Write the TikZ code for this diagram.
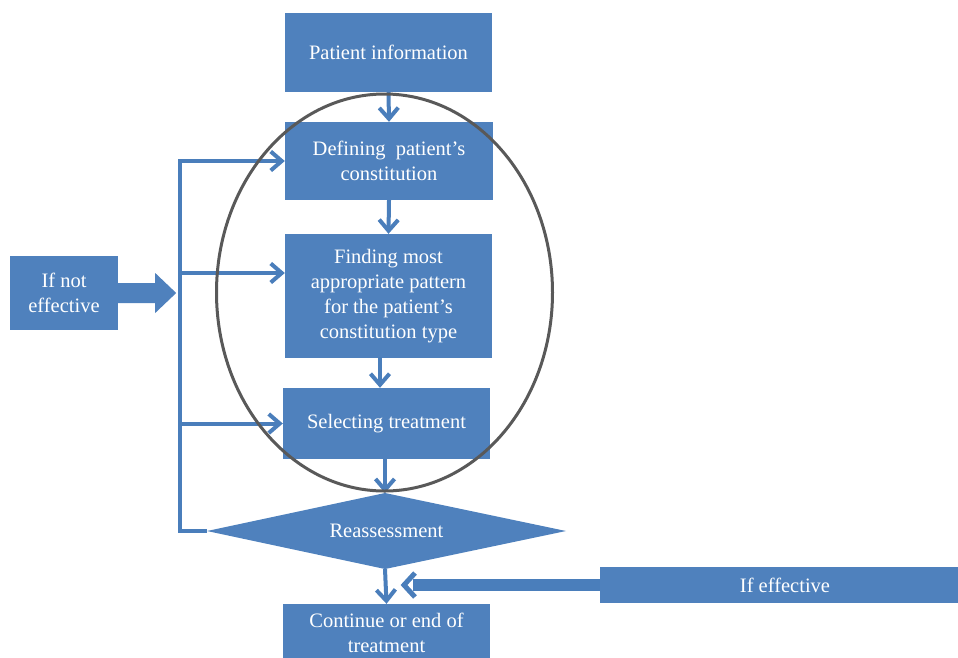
\documentclass[tikz,border=0pt]{standalone}
\usepackage{fontspec}
\setmainfont{Liberation Serif}
\usetikzlibrary{arrows.meta,shapes.geometric,calc}
\definecolor{boxblue}{RGB}{79,129,189}
\definecolor{lineblue}{RGB}{74,126,187}
\definecolor{ringgray}{RGB}{89,89,89}
\tikzset{
  box/.style={fill=boxblue, draw=none, text=white, align=center, inner sep=0pt,
    font=\fontsize{20.5}{25}\selectfont},
  lbl/.style={text=white, align=center, inner sep=0pt,
    font=\fontsize{20.5}{25}\selectfont},
  arr/.style={draw=lineblue, line width=4pt, line join=miter,
    -{Straight Barb[length=11pt,width=19pt]}},
  ring/.style={draw=ringgray, line width=3pt}
}
\begin{document}
\begin{tikzpicture}[x=1pt,y=-1pt]
\useasboundingbox (0,0) rectangle (958,657);
% boxes
\node[box, minimum width=207pt, minimum height=79pt] (pi) at (388.5,52.5) {Patient information};
\node[box, minimum width=208pt, minimum height=78pt] (def) at (389,161) {Defining\ \ patient’s\\constitution};
\node[box, minimum width=207pt, minimum height=124pt] (find) at (388.5,296) {Finding most\\appropriate pattern\\for the patient’s\\constitution type};
\node[box, minimum width=207pt, minimum height=71pt] (sel) at (386.5,423.5) {Selecting treatment};
% diamond
\coordinate (diaN) at (385,493);
\coordinate (diaS) at (385,569);
\coordinate (diaW) at (207,531);
\coordinate (diaE) at (566,531);
\fill[boxblue] (diaN) -- (diaE) -- (diaS) -- (diaW) -- cycle;
\node[lbl] (dia) at (386.5,531) {Reassessment};
\node[box, minimum width=207pt, minimum height=58pt] (cont) at (386.5,633) {Continue or end of\\treatment};
\node[box, minimum width=370pt, minimum height=36pt] (ife) at (785,585) {If effective};
\node[box, minimum width=108pt, minimum height=74pt] (ne) at (64,293) {If not\\effective};
% block arrow from "If not effective"
\fill[boxblue] ([yshift=10pt]ne.east) -- ++(37,0) -- ++(0,-10) -- ++(21,20) -- ++(-21,20) -- ++(0,-10) -- ++(-37,0) -- cycle;
% vertical flow
\draw[arr] (pi.south) -- (def.north);
\draw[arr] (def.south) -- (find.north);
\coordinate (fs) at (380,357);
\draw[arr] (fs) -- (fs |- sel.north);
\coordinate (ss) at (385,459);
\draw[arr] (ss) -- (diaN);
\draw[arr] (diaS) -- (cont.north);
% feedback spine
\coordinate (jb) at (180,531);
\coordinate (jt) at (180,161);
\draw[arr] (diaW) -- (jb) -- (jt) -- (def.west);
\coordinate (jm) at (182,273);
\draw[arr] (jm) -- (jm -| find.west);
\coordinate (jl) at (182,423.5);
\draw[arr] (jl) -- (jl -| sel.west);
% if effective arrow
\coordinate (ie) at (404,585);
\draw[draw=lineblue, line width=12pt] (ife.west) -- ($(ie)+(9,0)$);
\draw[draw=lineblue, line width=5pt, line join=miter] ($(ie)+(11,-12)$) -- (ie) -- ($(ie)+(11,12)$);
% ellipse
\node[ring, ellipse, minimum width=336pt, minimum height=397pt, inner sep=0pt] (ring) at (384.5,292.5) {};
\end{tikzpicture}
\end{document}
